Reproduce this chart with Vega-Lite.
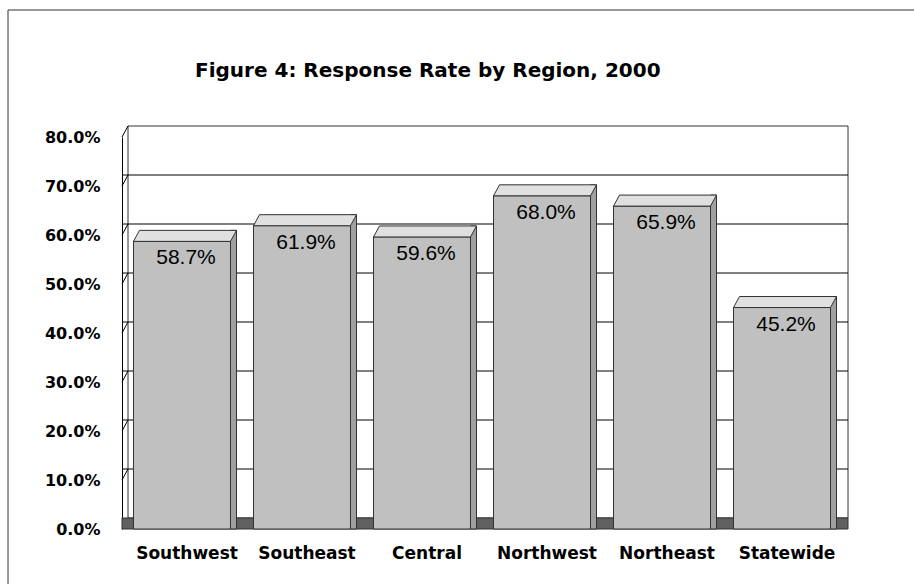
{
  "$schema": "https://vega.github.io/schema/vega-lite/v6.json",
  "width": 720,
  "height": 392,
  "autosize": "none",
  "padding": {"left": 122, "top": 137, "right": 72, "bottom": 55},
  "background": "white",
  "config": {"view": {"stroke": null}},
  "title": {
    "text": "Figure 4: Response Rate by Region, 2000",
    "frame": "group",
    "anchor": "start",
    "dx": 73,
    "offset": -87,
    "baseline": "alphabetic",
    "font": "DejaVu Sans",
    "fontSize": 20,
    "fontWeight": "bold",
    "color": "#000000"
  },
  "datasets": {
    "regions": [
      {"region": "Southwest", "rate": 0.587},
      {"region": "Southeast", "rate": 0.619},
      {"region": "Central", "rate": 0.596},
      {"region": "Northwest", "rate": 0.680},
      {"region": "Northeast", "rate": 0.659},
      {"region": "Statewide", "rate": 0.452}
    ],
    "walls": [
      {"top": 0.8, "base": 0.0}
    ],
    "gridLevels": [
      {"level": 0.1}, {"level": 0.2}, {"level": 0.3}, {"level": 0.4},
      {"level": 0.5}, {"level": 0.6}, {"level": 0.7}
    ],
    "wallLevels": [
      {"level": 0.0}, {"level": 0.1}, {"level": 0.2}, {"level": 0.3}, {"level": 0.4},
      {"level": 0.5}, {"level": 0.6}, {"level": 0.7}, {"level": 0.8}
    ]
  },
  "layer": [
    {
      "description": "outer chart frame, top edge",
      "data": {"name": "walls"},
      "mark": {"type": "rule", "color": "#333333", "strokeWidth": 1,
               "xOffset": -114, "x2Offset": 300, "yOffset": -127},
      "encoding": {
        "x": {"value": 0},
        "x2": {"value": "width"},
        "y": {"value": 0}
      }
    },
    {
      "description": "outer chart frame, left edge",
      "data": {"name": "walls"},
      "mark": {"type": "rule", "color": "#333333", "strokeWidth": 1,
               "xOffset": -114, "yOffset": -127, "y2Offset": 300},
      "encoding": {
        "x": {"value": 0},
        "y": {"value": 0},
        "y2": {"value": "height"}
      }
    },
    {
      "description": "back wall",
      "data": {"name": "walls"},
      "mark": {"type": "rect", "fill": "#ffffff", "stroke": "#333333", "strokeWidth": 1,
               "xOffset": 6, "x2Offset": 6, "yOffset": -11, "y2Offset": -11},
      "encoding": {
        "x": {"value": 0},
        "x2": {"value": "width"},
        "y": {"field": "top", "type": "quantitative"},
        "y2": {"field": "base"}
      }
    },
    {
      "description": "gridlines on the back wall",
      "data": {"name": "gridLevels"},
      "mark": {"type": "rule", "color": "#000000", "strokeWidth": 1,
               "xOffset": 6, "x2Offset": 6, "yOffset": -11},
      "encoding": {
        "y": {"field": "level", "type": "quantitative"}
      }
    },
    {
      "description": "slanted gridlines on the side wall",
      "data": {"name": "wallLevels"},
      "mark": {"type": "rule", "color": "#000000", "strokeWidth": 1,
               "x2Offset": 6, "y2Offset": -11},
      "encoding": {
        "x": {"value": 0},
        "x2": {"value": 0},
        "y": {"field": "level", "type": "quantitative"},
        "y2": {"field": "level"}
      }
    },
    {
      "description": "floor",
      "data": {"name": "walls"},
      "mark": {"type": "rect", "fill": "#606060", "stroke": "#333333", "strokeWidth": 1,
               "x2Offset": 6, "y2Offset": -11},
      "encoding": {
        "x": {"value": 0},
        "x2": {"value": "width"},
        "y": {"field": "base", "type": "quantitative"},
        "y2": {"field": "base"}
      }
    },
    {
      "description": "bar side faces",
      "data": {"name": "regions"},
      "mark": {"type": "bar", "width": 6, "xOffset": 51.5, "yOffset": -11,
               "fill": "#a0a0a0", "stroke": "#333333", "strokeWidth": 1},
      "encoding": {
        "x": {"field": "region", "type": "nominal", "sort": null},
        "y": {"field": "rate", "type": "quantitative"},
        "y2": {"datum": 0}
      }
    },
    {
      "description": "bar front faces",
      "data": {"name": "regions"},
      "mark": {"type": "bar", "fill": "#c0c0c0", "stroke": "#333333", "strokeWidth": 1},
      "encoding": {
        "x": {
          "field": "region", "type": "nominal", "sort": null,
          "scale": {"paddingInner": 0.19167, "paddingOuter": 0.0958},
          "axis": {
            "title": null, "domain": false, "ticks": false,
            "labelFont": "DejaVu Sans", "labelFontSize": 17, "labelFontWeight": "bold",
            "labelColor": "#000000", "labelAngle": 0, "labelAlign": "center",
            "labelBaseline": "alphabetic", "labelPadding": 29, "labelOffset": 5
          }
        },
        "y": {
          "field": "rate", "type": "quantitative",
          "scale": {"domain": [0, 0.8], "nice": false},
          "axis": {
            "title": null, "grid": false, "ticks": false,
            "values": [0, 0.1, 0.2, 0.3, 0.4, 0.5, 0.6, 0.7, 0.8],
            "format": ".1%",
            "domain": true, "domainColor": "#000000", "domainWidth": 1,
            "labelFont": "DejaVu Sans", "labelFontSize": 16, "labelFontWeight": "bold",
            "labelColor": "#000000", "labelPadding": 22
          }
        }
      }
    },
    {
      "description": "bar top faces",
      "data": {"name": "regions"},
      "mark": {
        "type": "point",
        "shape": "M -0.97 0 L 0.97 0 L 1.09 -0.22 L -0.85 -0.22 Z",
        "size": 10000,
        "filled": true,
        "fill": "#e0e0e0",
        "stroke": "#333333",
        "strokeWidth": 1,
        "opacity": 1
      },
      "encoding": {
        "x": {"field": "region", "type": "nominal", "sort": null},
        "y": {"field": "rate", "type": "quantitative"}
      }
    },
    {
      "description": "value labels",
      "data": {"name": "regions"},
      "mark": {"type": "text", "font": "Liberation Sans", "fontSize": 21,
               "color": "#000000", "baseline": "alphabetic", "align": "center",
               "xOffset": 4, "yOffset": 23},
      "encoding": {
        "x": {"field": "region", "type": "nominal", "sort": null},
        "y": {"field": "rate", "type": "quantitative"},
        "text": {"field": "rate", "type": "quantitative", "format": ".1%"}
      }
    }
  ]
}
